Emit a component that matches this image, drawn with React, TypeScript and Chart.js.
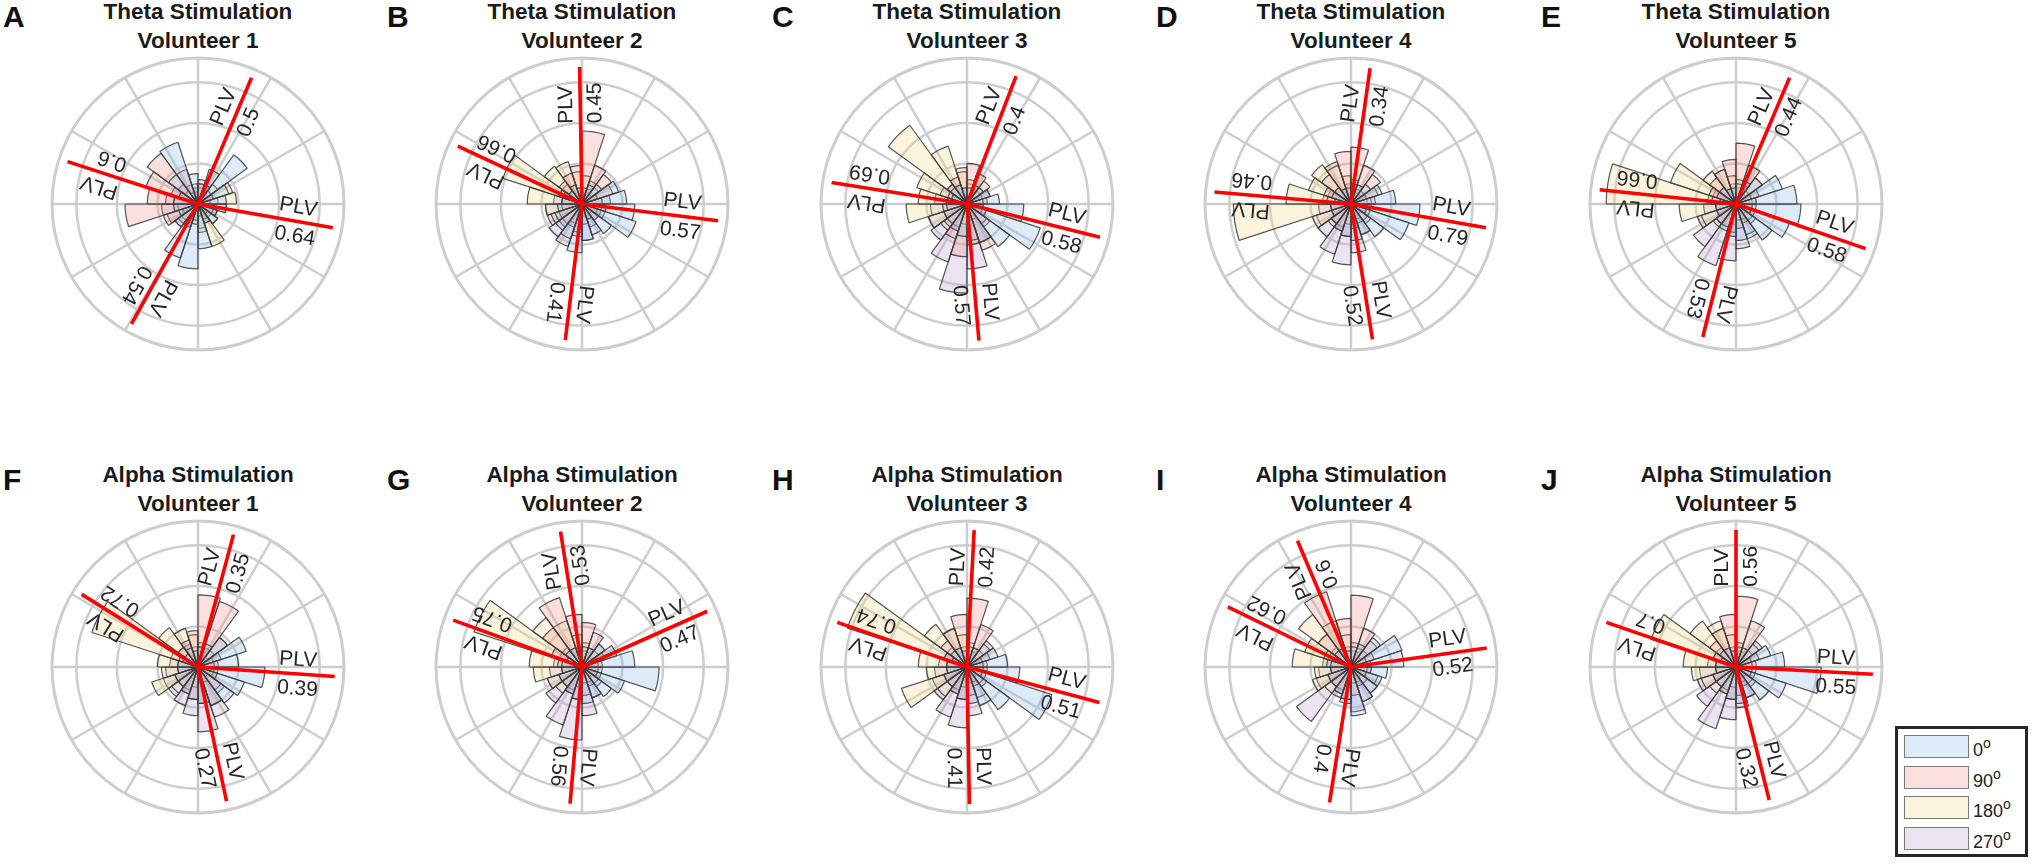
import React, { useEffect, useRef } from "react";
import { Chart, registerables } from "chart.js";

Chart.register(...registerables);

// ---------- categories ----------
// 20 phase bins of 18°, counter-clockwise from 0° (east)
const BIN_LABELS = [
  "0-18°", "18-36°", "36-54°", "54-72°", "72-90°",
  "90-108°", "108-126°", "126-144°", "144-162°", "162-180°",
  "180-198°", "198-216°", "216-234°", "234-252°", "252-270°",
  "270-288°", "288-306°", "306-324°", "324-342°", "342-360°",
];
const CONDITIONS = ["0°", "90°", "180°", "270°"];
const RING_VALUES = [0, 1, 2, 3, 3.6];
const R_MAX = 3.6;
const LINE_LEN = 3.38;
const LABEL_START = 1.98;
const SPOKE_ANGLES = [0, 30, 60, 90, 120, 150, 180, 210, 240, 270, 300, 330];

// ---------- series (bin heights, one ring = 1) ----------
// Theta, volunteer 1
const A_p0 = [0.7, 0.8, 1.5, 0.9, 0.5, 0.75, 1.6, 0.9, 0.5, 0.6, 0.6, 0.5, 0.7, 1.4, 1.6, 1.1, 0.5, 0.6, 0.5, 0.7];
const A_p90 = [0.3, 0.4, 0.4, 0.5, 0.6, 0.5, 0.9, 1.55, 1.35, 1.25, 1.8, 0.9, 0.6, 0.5, 0.4, 0.3, 0.4, 0.3, 0.4, 0.3];
const A_p180 = [0.95, 0.9, 0.6, 0.5, 0.4, 0.3, 0.3, 0.4, 0.5, 0.6, 0.5, 0.4, 0.5, 0.6, 0.5, 0.7, 1.1, 0.6, 0.5, 0.7];
const A_p270 = [0.5, 0.4, 0.3, 0.4, 0.5, 0.4, 0.5, 0.6, 0.7, 0.8, 0.9, 0.8, 0.7, 0.6, 0.5, 0.6, 0.5, 0.4, 0.5, 0.4];
const A_angles = [67, 162, -10, 241];
const A_plv = ["0.5", "0.6", "0.64", "0.54"];

// Theta, volunteer 2
const B_p0 = [1.1, 0.95, 0.6, 0.5, 0.4, 0.4, 0.5, 0.4, 0.5, 0.5, 0.6, 0.7, 0.8, 0.9, 1.2, 0.9, 0.8, 0.9, 1.4, 1.3];
const B_p90 = [0.7, 0.8, 0.9, 1.0, 1.8, 0.95, 0.8, 0.7, 0.6, 0.5, 0.5, 0.6, 0.7, 0.6, 0.7, 0.5, 0.4, 0.5, 0.6, 0.6];
const B_p180 = [0.5, 0.4, 0.5, 0.6, 0.7, 0.8, 1.1, 1.15, 2.05, 1.35, 0.9, 0.8, 0.6, 0.5, 0.4, 0.3, 0.4, 0.3, 0.4, 0.5];
const B_p270 = [0.5, 0.4, 0.3, 0.4, 0.3, 0.4, 0.5, 0.6, 0.6, 0.7, 0.9, 0.9, 1.0, 1.1, 0.8, 0.9, 0.6, 0.5, 0.5, 0.6];
const B_angles = [91, 155, -7, 263];
const B_plv = ["0.45", "0.66", "0.57", "0.41"];

// Theta, volunteer 3
const C_p0 = [0.8, 0.6, 0.5, 0.5, 0.4, 0.4, 0.5, 0.5, 0.4, 0.5, 0.5, 0.6, 0.6, 0.7, 0.8, 0.9, 1.0, 1.3, 1.9, 1.4];
const C_p90 = [0.5, 0.6, 0.7, 0.8, 1.0, 0.9, 0.7, 0.6, 0.5, 0.5, 0.6, 0.6, 0.7, 0.9, 1.3, 1.0, 1.2, 0.6, 0.5, 0.4];
const C_p180 = [0.4, 0.4, 0.5, 0.5, 0.6, 0.8, 1.5, 2.4, 1.3, 1.2, 1.5, 1.0, 0.8, 0.6, 0.5, 0.4, 0.4, 0.3, 0.4, 0.4];
const C_p270 = [0.4, 0.3, 0.4, 0.4, 0.5, 0.4, 0.5, 0.6, 0.7, 0.8, 0.9, 1.0, 1.1, 1.5, 2.2, 1.6, 1.0, 0.7, 0.5, 0.4];
const C_angles = [69, 171, -14, 275];
const C_plv = ["0.4", "0.69", "0.58", "0.57"];

// Theta, volunteer 4
const D_p0 = [1.1, 0.8, 0.6, 0.5, 0.5, 0.4, 0.4, 0.5, 0.5, 0.4, 0.5, 0.5, 0.6, 0.7, 0.8, 0.9, 0.8, 1.0, 1.5, 1.7];
const D_p90 = [0.6, 0.7, 0.9, 1.0, 1.4, 1.3, 1.1, 0.9, 0.7, 0.6, 0.5, 0.5, 0.6, 0.7, 0.8, 0.6, 0.5, 0.5, 0.4, 0.5];
const D_p180 = [0.5, 0.4, 0.4, 0.5, 0.6, 0.7, 1.0, 1.2, 1.1, 1.6, 2.9, 1.0, 0.7, 0.6, 0.5, 0.4, 0.4, 0.3, 0.4, 0.4];
const D_p270 = [0.4, 0.4, 0.3, 0.4, 0.5, 0.5, 0.4, 0.5, 0.6, 0.7, 0.8, 0.9, 1.0, 1.3, 1.5, 1.2, 0.8, 0.6, 0.5, 0.4];
const D_angles = [82, 175, -10, 279];
const D_plv = ["0.34", "0.46", "0.79", "0.52"];

// Theta, volunteer 5
const E_p0 = [1.5, 1.2, 0.8, 0.6, 0.5, 0.4, 0.4, 0.5, 0.5, 0.4, 0.5, 0.5, 0.6, 0.7, 0.8, 0.9, 0.9, 1.1, 1.4, 1.6];
const E_p90 = [0.5, 0.6, 0.8, 1.0, 1.5, 1.1, 0.9, 0.8, 0.7, 0.6, 0.5, 0.5, 0.6, 0.6, 0.7, 0.6, 0.5, 0.5, 0.4, 0.5];
const E_p180 = [0.5, 0.4, 0.4, 0.5, 0.6, 0.7, 0.9, 1.0, 1.7, 3.2, 1.4, 0.9, 0.7, 0.6, 0.5, 0.4, 0.4, 0.3, 0.4, 0.4];
const E_p270 = [0.4, 0.4, 0.3, 0.4, 0.4, 0.5, 0.4, 0.5, 0.6, 0.7, 0.8, 1.0, 1.3, 1.6, 1.4, 1.1, 0.8, 0.6, 0.5, 0.4];
const E_angles = [67, 174, -19, 256];
const E_plv = ["0.44", "0.66", "0.58", "0.53"];

// Alpha, volunteer 1
const F_p0 = [1.0, 1.25, 0.9, 0.6, 0.5, 0.4, 0.5, 0.4, 0.4, 0.5, 0.5, 0.6, 0.6, 0.7, 0.8, 0.9, 1.0, 1.1, 1.2, 1.65];
const F_p90 = [0.5, 0.6, 0.9, 1.7, 1.78, 0.9, 0.7, 0.6, 0.5, 0.5, 0.5, 0.6, 0.6, 0.7, 0.8, 0.9, 1.0, 0.7, 0.5, 0.5];
const F_p180 = [0.4, 0.4, 0.5, 0.5, 0.6, 0.8, 1.0, 1.2, 2.75, 1.0, 0.9, 1.2, 0.8, 0.6, 0.5, 0.4, 0.4, 0.3, 0.4, 0.4];
const F_p270 = [0.4, 0.3, 0.3, 0.4, 0.5, 0.5, 0.6, 0.6, 0.7, 0.7, 0.8, 0.9, 0.9, 1.0, 1.2, 1.6, 1.3, 0.8, 0.5, 0.4];
const F_angles = [75, 148, -4, 282];
const F_plv = ["0.35", "0.72", "0.39", "0.27"];

// Alpha, volunteer 2
const G_p0 = [1.3, 0.9, 0.7, 0.5, 0.5, 0.4, 0.5, 0.5, 0.4, 0.5, 0.5, 0.6, 0.6, 0.7, 0.8, 0.9, 0.8, 0.9, 1.1, 1.9];
const G_p90 = [0.5, 0.6, 0.7, 0.9, 1.1, 1.3, 1.8, 1.2, 0.8, 0.6, 0.5, 0.6, 0.6, 0.7, 0.8, 0.7, 0.5, 0.5, 0.4, 0.5];
const G_p180 = [0.4, 0.4, 0.5, 0.5, 0.6, 0.8, 1.2, 1.5, 2.8, 1.3, 1.2, 0.9, 0.8, 0.6, 0.5, 0.4, 0.4, 0.3, 0.4, 0.4];
const G_p270 = [0.4, 0.4, 0.3, 0.4, 0.4, 0.5, 0.5, 0.6, 0.6, 0.7, 0.8, 0.9, 1.1, 1.5, 1.8, 1.2, 0.8, 0.6, 0.5, 0.4];
const G_angles = [99, 160, 24, 265];
const G_plv = ["0.53", "0.75", "0.47", "0.56"];

// Alpha, volunteer 3
const H_p0 = [1.0, 0.8, 0.7, 0.5, 0.5, 0.4, 0.5, 0.5, 0.4, 0.5, 0.5, 0.6, 0.6, 0.7, 0.8, 0.9, 1.0, 1.3, 2.2, 1.3];
const H_p90 = [0.5, 0.6, 0.8, 1.1, 1.7, 1.3, 1.0, 0.8, 0.6, 0.5, 0.5, 0.6, 0.6, 0.7, 0.8, 0.7, 0.5, 0.5, 0.4, 0.5];
const H_p180 = [0.4, 0.4, 0.5, 0.5, 0.6, 0.8, 1.0, 1.3, 3.1, 1.2, 1.0, 1.7, 0.9, 0.6, 0.5, 0.4, 0.4, 0.3, 0.4, 0.4];
const H_p270 = [0.4, 0.4, 0.3, 0.4, 0.4, 0.5, 0.5, 0.6, 0.6, 0.7, 0.8, 0.9, 1.0, 1.3, 1.5, 1.2, 0.8, 0.6, 0.5, 0.4];
const H_angles = [87, 161, -15, 271];
const H_plv = ["0.42", "0.74", "0.51", "0.41"];

// Alpha, volunteer 4
const I_p0 = [1.3, 1.32, 0.9, 0.6, 0.5, 0.4, 0.5, 0.5, 0.4, 0.5, 0.5, 0.6, 0.6, 0.7, 0.8, 1.2, 0.9, 0.8, 0.8, 0.9];
const I_p90 = [0.5, 0.6, 0.8, 1.0, 1.77, 1.2, 1.95, 1.0, 0.7, 0.6, 0.5, 0.6, 0.6, 0.7, 0.8, 0.7, 0.5, 0.5, 0.4, 0.5];
const I_p180 = [0.4, 0.4, 0.5, 0.5, 0.6, 0.8, 1.2, 1.6, 1.2, 1.45, 0.9, 1.0, 0.8, 0.6, 0.5, 0.4, 0.4, 0.3, 0.4, 0.4];
const I_p270 = [0.4, 0.4, 0.3, 0.4, 0.4, 0.5, 0.5, 0.6, 0.6, 0.7, 0.8, 0.9, 1.66, 0.8, 0.9, 1.1, 0.9, 0.8, 0.7, 0.5];
const I_angles = [113, 154, 8, 261];
const I_plv = ["0.6", "0.62", "0.52", "0.4"];

// Alpha, volunteer 5
const J_p0 = [1.2, 0.9, 0.7, 0.5, 0.5, 0.4, 0.5, 0.5, 0.4, 0.5, 0.5, 0.6, 0.6, 0.7, 0.8, 0.9, 0.8, 1.0, 1.3, 2.1];
const J_p90 = [0.5, 0.6, 0.8, 1.2, 1.75, 1.3, 1.0, 0.8, 0.6, 0.5, 0.5, 0.6, 0.6, 0.7, 0.8, 0.7, 0.5, 0.5, 0.4, 0.5];
const J_p180 = [0.4, 0.4, 0.5, 0.5, 0.6, 0.8, 1.2, 1.4, 2.2, 1.3, 1.1, 0.9, 0.8, 0.6, 0.5, 0.4, 0.4, 0.3, 0.4, 0.4];
const J_p270 = [0.4, 0.4, 0.3, 0.4, 0.4, 0.5, 0.5, 0.6, 0.6, 0.7, 0.9, 1.0, 1.2, 1.6, 1.3, 1.0, 0.8, 0.6, 0.5, 0.4];
const J_angles = [90, 161, -3, 284];
const J_plv = ["0.56", "0.7", "0.55", "0.32"];

// ---------- styling ----------
const FILLS = [
  "rgba(140,190,230,0.30)",
  "rgba(240,150,140,0.30)",
  "rgba(246,215,140,0.30)",
  "rgba(190,160,212,0.30)",
];
const BAR_EDGE = "rgba(55,55,55,0.85)";
const GRID = "#cdcdcd";
const FONT = '"Liberation Sans", Arial, Helvetica, sans-serif';

const COL_X = [198, 582, 967, 1351, 1736];
const ROW_Y = [204, 667];

type PanelSpec = {
  letter: string;
  title1: string;
  title2: string;
  series: number[][];
  angles: number[];
  plv: string[];
  col: number;
  row: number;
};

const PANELS: PanelSpec[] = [
  { letter: "A", title1: "Theta Stimulation", title2: "Volunteer 1", series: [A_p0, A_p90, A_p180, A_p270], angles: A_angles, plv: A_plv, col: 0, row: 0 },
  { letter: "B", title1: "Theta Stimulation", title2: "Volunteer 2", series: [B_p0, B_p90, B_p180, B_p270], angles: B_angles, plv: B_plv, col: 1, row: 0 },
  { letter: "C", title1: "Theta Stimulation", title2: "Volunteer 3", series: [C_p0, C_p90, C_p180, C_p270], angles: C_angles, plv: C_plv, col: 2, row: 0 },
  { letter: "D", title1: "Theta Stimulation", title2: "Volunteer 4", series: [D_p0, D_p90, D_p180, D_p270], angles: D_angles, plv: D_plv, col: 3, row: 0 },
  { letter: "E", title1: "Theta Stimulation", title2: "Volunteer 5", series: [E_p0, E_p90, E_p180, E_p270], angles: E_angles, plv: E_plv, col: 4, row: 0 },
  { letter: "F", title1: "Alpha Stimulation", title2: "Volunteer 1", series: [F_p0, F_p90, F_p180, F_p270], angles: F_angles, plv: F_plv, col: 0, row: 1 },
  { letter: "G", title1: "Alpha Stimulation", title2: "Volunteer 2", series: [G_p0, G_p90, G_p180, G_p270], angles: G_angles, plv: G_plv, col: 1, row: 1 },
  { letter: "H", title1: "Alpha Stimulation", title2: "Volunteer 3", series: [H_p0, H_p90, H_p180, H_p270], angles: H_angles, plv: H_plv, col: 2, row: 1 },
  { letter: "I", title1: "Alpha Stimulation", title2: "Volunteer 4", series: [I_p0, I_p90, I_p180, I_p270], angles: I_angles, plv: I_plv, col: 3, row: 1 },
  { letter: "J", title1: "Alpha Stimulation", title2: "Volunteer 5", series: [J_p0, J_p90, J_p180, J_p270], angles: J_angles, plv: J_plv, col: 4, row: 1 },
];

// Spokes (under bars) and PLV vectors + rotated labels (over bars)
const polarDecor = {
  id: "polarDecor",
  beforeDatasetsDraw(chart: any) {
    const r = chart.scales.r;
    const ctx = chart.ctx as CanvasRenderingContext2D;
    const outer = r.getDistanceFromCenterForValue(R_MAX);
    ctx.save();
    ctx.strokeStyle = GRID;
    ctx.lineWidth = 2.5;
    for (const a of SPOKE_ANGLES) {
      const t = (-a * Math.PI) / 180;
      ctx.beginPath();
      ctx.moveTo(r.xCenter, r.yCenter);
      ctx.lineTo(r.xCenter + Math.cos(t) * outer, r.yCenter + Math.sin(t) * outer);
      ctx.stroke();
    }
    ctx.restore();
  },
  afterDatasetsDraw(chart: any, _args: any, opts: any) {
    const r = chart.scales.r;
    const ctx = chart.ctx as CanvasRenderingContext2D;
    const len = r.getDistanceFromCenterForValue(LINE_LEN);
    const start = r.getDistanceFromCenterForValue(LABEL_START);
    const angles: number[] = opts.angles || [];
    const plv: string[] = opts.plv || [];
    ctx.save();
    ctx.strokeStyle = "#ff0000";
    ctx.lineWidth = 3.6;
    ctx.lineCap = "butt";
    angles.forEach((a) => {
      const t = (-a * Math.PI) / 180;
      ctx.beginPath();
      ctx.moveTo(r.xCenter, r.yCenter);
      ctx.lineTo(r.xCenter + Math.cos(t) * len, r.yCenter + Math.sin(t) * len);
      ctx.stroke();
    });
    ctx.fillStyle = "#262626";
    ctx.font = `21px ${FONT}`;
    ctx.textAlign = "left";
    ctx.textBaseline = "middle";
    angles.forEach((a, i) => {
      const t = (-a * Math.PI) / 180;
      ctx.save();
      ctx.translate(r.xCenter, r.yCenter);
      ctx.rotate(t);
      ctx.fillText("PLV", start, -14);
      ctx.fillText(plv[i], start, 15);
      ctx.restore();
    });
    ctx.restore();
  },
};

function Panel({ p }: { p: PanelSpec }) {
  const ref = useRef<HTMLCanvasElement>(null);
  useEffect(() => {
    if (!ref.current) return;
    const chart = new Chart(ref.current, {
      type: "polarArea",
      data: {
        labels: [...BIN_LABELS].reverse(),
        datasets: p.series.map((s, i) => ({
          label: CONDITIONS[i],
          data: [...s].reverse(),
          backgroundColor: FILLS[i],
          borderColor: BAR_EDGE,
          borderWidth: 1.2,
        })),
      },
      options: {
        responsive: false,
        animation: false,
        layout: { padding: 4 },
        plugins: {
          legend: { display: false },
          tooltip: { enabled: false },
          // @ts-ignore
          polarDecor: { angles: p.angles, plv: p.plv },
        },
        scales: {
          r: {
            min: 0,
            max: R_MAX,
            startAngle: 90,
            ticks: { display: false },
            afterBuildTicks: (scale: any) => {
              scale.ticks = RING_VALUES.map((v) => ({ value: v }));
            },
            grid: {
              circular: true,
              color: GRID,
              lineWidth: (c: any) => (c.index === RING_VALUES.length - 1 ? 3 : 2.5),
            },
            angleLines: { display: false },
            pointLabels: { display: false },
          },
        },
      } as any,
      plugins: [polarDecor as any],
    });
    return () => chart.destroy();
  }, [p]);

  const cx = COL_X[p.col];
  const cy = ROW_Y[p.row];
  const dy = cy - 204;
  return (
    <>
      <div
        style={{
          position: "absolute",
          left: cx - 195,
          top: 1.6 + dy,
          font: `bold 30px ${FONT}`,
          lineHeight: "30px",
          color: "#111",
        }}
      >
        {p.letter}
      </div>
      <div
        style={{
          position: "absolute",
          left: cx - 190,
          width: 380,
          top: -2 + dy,
          textAlign: "center",
          font: `bold 22.5px ${FONT}`,
          lineHeight: "28.5px",
          color: "#1a1a1a",
          whiteSpace: "nowrap",
        }}
      >
        <div>{p.title1}</div>
        <div>{p.title2}</div>
      </div>
      <canvas
        ref={ref}
        width={300}
        height={300}
        style={{ position: "absolute", left: cx - 150, top: cy - 150, width: 300, height: 300 }}
      />
    </>
  );
}

function Legend() {
  const tops = [735, 765.5, 796, 826.5];
  return (
    <>
      <div
        style={{
          position: "absolute",
          left: 1895,
          top: 726,
          width: 127,
          height: 125,
          border: "3px solid #262626",
          background: "#fff",
        }}
      />
      {CONDITIONS.map((c, i) => (
        <React.Fragment key={c}>
          <div
            style={{
              position: "absolute",
              left: 1904,
              top: tops[i],
              width: 63,
              height: 21,
              border: "1px solid #7a7a7a",
              background: FILLS[i],
            }}
          />
          <div
            style={{
              position: "absolute",
              left: 1973,
              top: tops[i] + 4.3,
              font: `18px ${FONT}`,
              lineHeight: "23px",
              color: "#222",
              whiteSpace: "nowrap",
            }}
          >
            {c.replace("°", "")}
            <span style={{ fontSize: 14, position: "relative", top: -8 }}>o</span>
          </div>
        </React.Fragment>
      ))}
    </>
  );
}

export default function App() {
  return (
    <div
      style={{
        position: "absolute",
        left: 0,
        top: 0,
        width: 2035,
        height: 864,
        background: "#fff",
        overflow: "hidden",
      }}
    >
      {PANELS.map((p) => (
        <Panel key={p.letter} p={p} />
      ))}
      <Legend />
    </div>
  );
}
